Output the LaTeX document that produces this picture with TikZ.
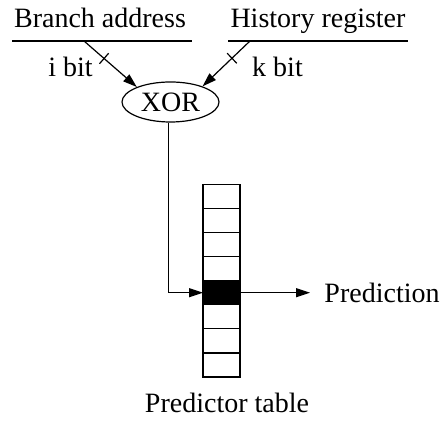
\documentclass[tikz,border=0pt]{standalone}
\usepackage{fontspec}
\setmainfont{Liberation Serif}
\usetikzlibrary{arrows.meta,calc,shapes.geometric}

\begin{document}
\begin{tikzpicture}[x=0.5pt,y=-0.5pt,line width=0.6pt,>={Triangle[length=7pt,width=4.5pt]},every node/.style={font=\fontsize{14}{17}\selectfont},lbl/.style={anchor=base,inner sep=0},cell/.style={draw,minimum width=18.5pt,minimum height=12.05pt,inner sep=0,outer sep=0}]
\useasboundingbox (0,0) rectangle (444,421);
\node[lbl](addr) at (100,28) {Branch address};
\node[lbl](hist) at (318,28) {History register};
\draw (12,41) -- (192,41);
\draw (228,41) -- (408,41);
\coordinate(addrout) at (84,41);
\coordinate(histout) at (250,41);
\node[draw,ellipse,minimum width=48.5pt,minimum height=20pt,inner sep=0](xor) at (170.5,102) {XOR};
\draw[->] (addrout) -- (xor.156);
\draw[->] (histout) -- (xor.26);
% bit width ticks
\coordinate(ti) at ($(addrout)!0.38!(xor.156)$);
\coordinate(tk) at ($(histout)!0.38!(xor.26)$);
\draw ($(ti)!3.5pt!90:(xor.156)$) -- ($(ti)!3.5pt!-90:(xor.156)$);
\draw ($(tk)!3.5pt!90:(xor.26)$) -- ($(tk)!3.5pt!-90:(xor.26)$);
\node[lbl](ibit) at (70.5,77) {i bit};
\node[lbl](kbit) at (277.5,77) {k bit};
% predictor table
\foreach \i in {0,...,7}
  \node[cell](c\i) at (221.5,{196.3+24.1*\i}) {};
\node[cell,fill=black](hit) at (c4) {};
\coordinate(down) at (168.7,0);
\draw[->] (xor.south -| down) |- (hit.west);
\coordinate(predin) at (310,0);
\draw[->] (hit.east) -- (hit.east -| predin);
\node[lbl](pred) at (382,303) {Prediction};
\node[lbl](tbl) at (227,413) {Predictor table};
\end{tikzpicture}
\end{document}
